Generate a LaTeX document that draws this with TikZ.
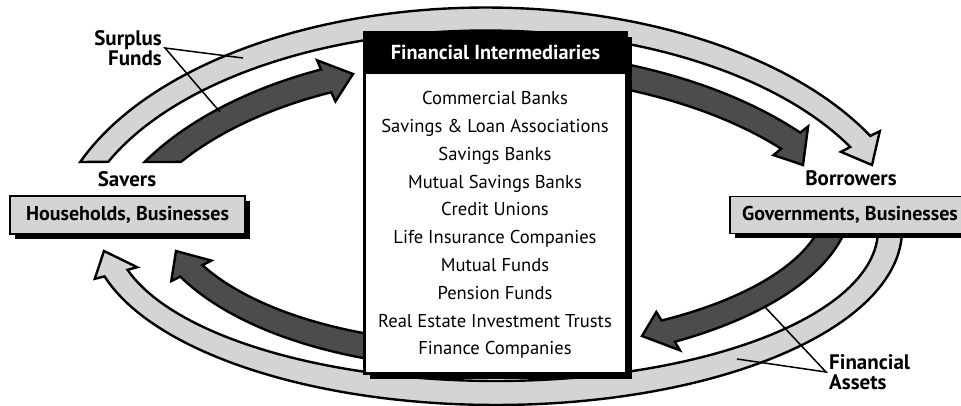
\documentclass[tikz,border=0pt]{standalone}
\usepackage{fontspec}
\setmainfont{PT Sans}
\usetikzlibrary{shadows}
\definecolor{lightfill}{gray}{0.83}
\definecolor{darkfill}{gray}{0.30}
\begin{document}
\begin{tikzpicture}[x=1pt,y=-1pt,
  band/.style={draw=black,line width=2.4pt,line join=miter,miter limit=6},
  lightband/.style={band,fill=lightfill},
  darkband/.style={band,fill=darkfill},
  blackshadow/.style={drop shadow={shadow xshift=5pt,shadow yshift=-5pt,opacity=1,fill=black}},
  boldlabel/.style={font=\fontsize{21}{20}\selectfont\bfseries,inner sep=3pt},
  sectorbox/.style={draw=black,line width=1.8pt,fill=lightfill,blackshadow,
     font=\fontsize{20}{21}\selectfont\bfseries,inner sep=0pt},
  pointer/.style={draw=black,line width=1.5pt}]
\useasboundingbox (0,0) rectangle (961,406);
\clip (0,0) rectangle (961,406);

% ---------- outer light arrow: savers to borrowers (over the top)
\pgfmathsetmacro\ltO{-180-asin(-88/242.5)}
\pgfmathsetmacro\ltI{-180-asin(-88/219.5)}
\filldraw[lightband]
  plot[domain=0:1,samples=90,variable=\u]
    ({486+435.5*cos(\ltO+(-28-(\ltO))*\u)},{250+242.5*sin(\ltO+(-28-(\ltO))*\u)})
  -- ({486+446*cos(-28)},{250+253*sin(-28)})
  -- (872,165)
  -- ({486+402*cos(-28)},{250+209*sin(-28)})
  -- plot[domain=0:1,samples=90,variable=\u]
    ({486+412.5*cos(-28+((\ltI)+28)*\u)},{250+219.5*sin(-28+((\ltI)+28)*\u)})
  -- cycle;

% ---------- outer light arrow: borrowers to savers (under the bottom)
\pgfmathsetmacro\lbO{asin(6/175)}
\pgfmathsetmacro\lbI{asin(6/151)}
\filldraw[lightband]
  plot[domain=0:1,samples=90,variable=\u]
    ({496+406*cos(\lbO+(164.7-(\lbO))*\u)},{230+175*sin(\lbO+(164.7-(\lbO))*\u)})
  -- ({496+416*cos(164.7)},{230+185*sin(164.7)})
  -- (104,251)
  -- ({496+372*cos(164.7)},{230+141*sin(164.7)})
  -- plot[domain=0:1,samples=90,variable=\u]
    ({496+382*cos(164.7+((\lbI)-164.7)*\u)},{230+151*sin(164.7+((\lbI)-164.7)*\u)})
  -- cycle;

% ---------- dark arrow: savers to intermediaries
\pgfmathsetmacro\dlO{-180-asin(-118/230.5)}
\pgfmathsetmacro\dlI{-180-asin(-118/205.5)}
\filldraw[darkband]
  plot[domain=0:1,samples=60,variable=\u]
    ({480+390.5*cos(\dlO+(-114-(\dlO))*\u)},{280+230.5*sin(\dlO+(-114-(\dlO))*\u)})
  -- ({480+400.5*cos(-114)},{280+240.5*sin(-114)})
  -- (353,74)
  -- ({480+355.5*cos(-114)},{280+195.5*sin(-114)})
  -- plot[domain=0:1,samples=60,variable=\u]
    ({480+365.5*cos(-114+((\dlI)+114)*\u)},{280+205.5*sin(-114+((\dlI)+114)*\u)})
  -- cycle;

% ---------- dark arrow: intermediaries to borrowers
\filldraw[darkband]
  plot[domain=0:1,samples=60,variable=\u]
    ({480+416.5*cos(-100+60.3*\u)},{280+230.5*sin(-100+60.3*\u)})
  -- ({480+426.5*cos(-39.7)},{280+240.5*sin(-39.7)})
  -- (803,165)
  -- ({480+381.5*cos(-39.7)},{280+195.5*sin(-39.7)})
  -- plot[domain=0:1,samples=60,variable=\u]
    ({480+391.5*cos(-39.7-60.3*\u)},{280+205.5*sin(-39.7-60.3*\u)})
  -- cycle;

% ---------- dark arrow: borrowers to intermediaries
\pgfmathsetmacro\drO{asin(36/166.5)}
\pgfmathsetmacro\drI{asin(36/141.5)}
\filldraw[darkband]
  plot[domain=0:1,samples=60,variable=\u]
    ({480+371.5*cos(\drO+(58.4-(\drO))*\u)},{200+166.5*sin(\drO+(58.4-(\drO))*\u)})
  -- ({480+381.5*cos(58.4)},{200+176.5*sin(58.4)})
  -- (642,336)
  -- ({480+336.5*cos(58.4)},{200+131.5*sin(58.4)})
  -- plot[domain=0:1,samples=60,variable=\u]
    ({480+346.5*cos(58.4+((\drI)-58.4)*\u)},{200+141.5*sin(58.4+((\drI)-58.4)*\u)})
  -- cycle;

% ---------- dark arrow: intermediaries to savers
\filldraw[darkband]
  plot[domain=0:1,samples=60,variable=\u]
    ({480+336.5*cos(80+73*\u)},{200+168.5*sin(80+73*\u)})
  -- ({480+346.5*cos(153)},{200+178.5*sin(153)})
  -- (176,251)
  -- ({480+301.5*cos(153)},{200+133.5*sin(153)})
  -- plot[domain=0:1,samples=60,variable=\u]
    ({480+311.5*cos(153-73*\u)},{200+143.5*sin(153-73*\u)})
  -- cycle;

% ---------- financial intermediaries box
\node[draw=black,line width=2.8pt,fill=white,minimum width=262pt,minimum height=341pt,
      inner sep=0pt,blackshadow] (fi) at (495.5,203) {};
\node[fill=black,minimum width=262pt,minimum height=43pt,anchor=north,inner sep=0pt,
      text=white,font=\fontsize{20.3}{21}\selectfont\bfseries] (fihead) at (fi.north) {Financial Intermediaries};
\node[font=\fontsize{18.6}{27.8}\selectfont,align=center,inner sep=0pt] (filist) at (495,225)
  {Commercial Banks\\ Savings \& Loan Associations\\ Savings Banks\\ Mutual Savings Banks\\
   Credit Unions\\ Life Insurance Companies\\ Mutual Funds\\ Pension Funds\\
   Real Estate Investment Trusts\\ Finance Companies};

% ---------- savers and borrowers
\node[boldlabel] (savers) at (127,179) {Savers};
\node[sectorbox,minimum width=235pt,minimum height=38pt] (hh) at (127.5,215) {Households, Businesses};
\node[boldlabel] (borrowers) at (851,178) {Borrowers};
\node[sectorbox,minimum width=240pt,minimum height=37pt] (gov) at (850,215) {Governments, Businesses};

% ---------- callouts
\node[boldlabel,align=right,anchor=east] (sf) at (165,48) {Surplus\\Funds};
\coordinate (sfA) at (243,58);
\coordinate (sfB) at (220,112);
\draw[pointer] (sfA) -- (sf.east) -- (sfB);

\node[boldlabel,align=left,anchor=west] (fa) at (826,372) {Financial\\Assets};
\coordinate (faA) at (737,359);
\coordinate (faB) at (765,307);
\draw[pointer] (faA) -- (fa.west) -- (faB);
\end{tikzpicture}
\end{document}
